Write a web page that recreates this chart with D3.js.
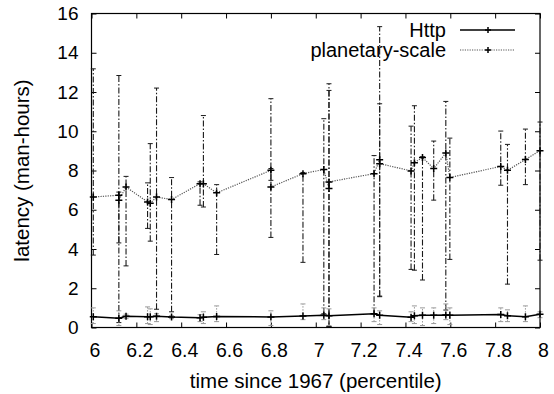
<!DOCTYPE html>
<html>
<head>
<meta charset="utf-8">
<script src="https://cdn.jsdelivr.net/npm/d3@7"></script>
<style>
  body { margin: 0; background: #fff; }
  svg text { font-family: "Liberation Sans", Arial, sans-serif; fill: #000; }
</style>
</head>
<body>
<div id="chart"></div>
<script>
// planetary-scale series (x, value, error low, error high)
const planetX  = [6.008, 6.122, 6.122, 6.154, 6.25, 6.262, 6.29, 6.357, 6.484, 6.499, 6.558, 6.80, 6.80, 6.943, 7.036, 7.059, 7.059, 7.26, 7.285, 7.285, 7.425, 7.44, 7.476, 7.526, 7.58, 7.598, 7.825, 7.855, 7.935, 8.0];
const planetY  = [6.65, 6.74, 6.49, 7.16, 6.40, 6.33, 6.65, 6.52, 7.33, 7.33, 6.86, 8.01, 7.16, 7.84, 8.05, 7.08, 7.42, 7.84, 8.55, 8.35, 7.98, 8.40, 8.66, 8.10, 8.89, 7.64, 8.21, 8.01, 8.56, 9.01];
const planetLo = [3.69, 4.31, 0.25, 3.14, 5.05, 4.40, 0.93, 0.80, 6.23, 6.14, 3.72, 7.50, 4.59, 3.32, 0.70, 0.05, 0.05, 0.70, 1.60, 1.57, 2.96, 2.92, 2.42, 6.49, 0.89, 3.47, 7.25, 2.21, 7.28, 3.43];
const planetHi = [13.18, 12.84, 6.90, 7.70, 7.37, 9.37, 12.2, 7.64, 7.42, 10.8, 7.28, 8.10, 11.66, 7.90, 10.64, 12.42, 12.08, 8.76, 15.33, 11.4, 10.26, 11.3, 8.70, 9.50, 11.52, 9.65, 10.01, 9.33, 10.11, 10.47];

// Http series
const httpX  = [6.008, 6.122, 6.154, 6.25, 6.262, 6.29, 6.357, 6.484, 6.499, 6.558, 6.80, 6.943, 7.036, 7.059, 7.26, 7.285, 7.425, 7.44, 7.476, 7.526, 7.58, 7.598, 7.825, 7.855, 7.935, 8.0];
const httpY  = [0.55, 0.47, 0.57, 0.55, 0.55, 0.57, 0.53, 0.50, 0.52, 0.56, 0.54, 0.59, 0.62, 0.60, 0.70, 0.63, 0.52, 0.60, 0.62, 0.62, 0.64, 0.62, 0.66, 0.60, 0.55, 0.68];
const httpLo = [0.20, 0.10, 0.45, 0.20, 0.15, 0.30, 0.45, 0.30, 0.20, 0.30, 0.10, 0.40, 0.40, 0.10, 0.30, 0.15, 0.30, 0.20, 0.10, 0.20, 0.40, 0.15, 0.30, 0.30, 0.30, 0.50];
const httpHi = [1.00, 0.85, 0.68, 1.05, 0.95, 0.70, 0.60, 0.65, 0.80, 1.10, 0.85, 1.20, 1.00, 0.95, 1.00, 0.85, 0.80, 1.10, 1.00, 1.00, 1.20, 1.00, 1.00, 0.90, 1.10, 0.80];

const xTicks = [6, 6.2, 6.4, 6.6, 6.8, 7, 7.2, 7.4, 7.6, 7.8, 8];
const yTicks = [0, 2, 4, 6, 8, 10, 12, 14, 16];
const seriesNames = ['Http', 'planetary-scale'];

const W = 554, H = 394;
const mLeft = 91.5, mRight = 540, mTop = 13.5, mBottom = 327.5;

const svg = d3.select('#chart').append('svg')
    .attr('width', W)
    .attr('height', H);

const x = d3.scaleLinear().domain([6, 8]).range([mLeft, mRight]);
const y = d3.scaleLinear().domain([0, 16]).range([mBottom, mTop]);

// axes with inward ticks on all four sides
svg.append('g')
    .attr('transform', `translate(0,${mBottom})`)
    .call(d3.axisBottom(x).tickValues(xTicks).tickSizeInner(-5).tickSizeOuter(0).tickPadding(16)
        .tickFormat(d3.format('')))
    .call(g => g.selectAll('text').attr('dx', 3).style('font-size', '19.5px'));
svg.append('g')
    .attr('transform', `translate(0,${mTop})`)
    .call(d3.axisTop(x).tickValues(xTicks).tickSizeInner(-5).tickSizeOuter(0).tickFormat(''));
svg.append('g')
    .attr('transform', `translate(${mLeft},0)`)
    .call(d3.axisLeft(y).tickValues(yTicks).tickSizeInner(-5).tickSizeOuter(0).tickPadding(13))
    .call(g => g.selectAll('text').style('font-size', '19px'));
svg.append('g')
    .attr('transform', `translate(${mRight},0)`)
    .call(d3.axisRight(y).tickValues(yTicks).tickSizeInner(-5).tickSizeOuter(0).tickFormat(''));
svg.selectAll('.domain').remove();
svg.selectAll('.tick line').attr('stroke', '#000');

// frame
svg.append('rect')
    .attr('x', mLeft).attr('y', mTop)
    .attr('width', mRight - mLeft).attr('height', mBottom - mTop)
    .attr('fill', 'none').attr('stroke', '#000').attr('stroke-width', 1.2);

// axis titles
svg.append('text')
    .attr('x', (mLeft + mRight) / 2).attr('y', 388)
    .attr('text-anchor', 'middle').style('font-size', '20.5px')
    .text('time since 1967 (percentile)');
svg.append('text')
    .attr('transform', `translate(29,${(mTop + mBottom) / 2}) rotate(-90)`)
    .attr('text-anchor', 'middle').style('font-size', '20.5px')
    .text('latency (man-hours)');

function errorBars(xs, lo, hi, color, dash, width) {
    const g = svg.append('g');
    xs.forEach((xv, i) => {
        const px = x(xv);
        g.append('line')
            .attr('x1', px).attr('x2', px)
            .attr('y1', y(lo[i])).attr('y2', y(hi[i]))
            .attr('stroke', color).attr('stroke-width', width)
            .attr('stroke-dasharray', dash);
        [lo[i], hi[i]].forEach(v => {
            g.append('line')
                .attr('x1', px - 2.5).attr('x2', px + 2.5)
                .attr('y1', y(v)).attr('y2', y(v))
                .attr('stroke', color).attr('stroke-width', 1);
        });
    });
}

function plus(g, px, py, s) {
    g.append('path')
        .attr('d', `M${px - s},${py}H${px + s}M${px},${py - s}V${py + s}`)
        .attr('stroke', '#000').attr('stroke-width', 1.5).attr('fill', 'none');
}

// error bars
errorBars(planetX, planetLo, planetHi, '#1a1a1a', '6,2,1.5,2', 1.1);
errorBars(httpX, httpLo, httpHi, '#999', '1.5,1.5', 1);

// lines
const httpLine = d3.line().x((d, i) => x(httpX[i])).y(d => y(d));
svg.append('path')
    .attr('d', httpLine(httpY))
    .attr('fill', 'none').attr('stroke', '#000').attr('stroke-width', 1.5);

const planetLine = d3.line().x((d, i) => x(planetX[i])).y(d => y(d));
svg.append('path')
    .attr('d', planetLine(planetY))
    .attr('fill', 'none').attr('stroke', '#555').attr('stroke-width', 1.2)
    .attr('stroke-dasharray', '1.2,1.2');

// markers
const mk = svg.append('g');
httpX.forEach((xv, i) => plus(mk, x(xv), y(httpY[i]), 3.5));
planetX.forEach((xv, i) => plus(mk, x(xv), y(planetY[i]), 3.5));

// legend
const legend = svg.append('g');
const rows = [
    { name: seriesNames[0], y: 30, color: '#000', dash: null, width: 1.5 },
    { name: seriesNames[1], y: 50, color: '#555', dash: '1.2,1.2', width: 1.2 }
];
rows.forEach(r => {
    legend.append('text')
        .attr('x', 446).attr('y', r.y).attr('dy', '0.35em')
        .attr('text-anchor', 'end').style('font-size', '20px')
        .text(r.name);
    legend.append('line')
        .attr('x1', 460).attr('x2', 515).attr('y1', r.y).attr('y2', r.y)
        .attr('stroke', r.color).attr('stroke-width', r.width)
        .attr('stroke-dasharray', r.dash);
    plus(legend, 488, r.y, 3);
});
</script>
</body>
</html>
